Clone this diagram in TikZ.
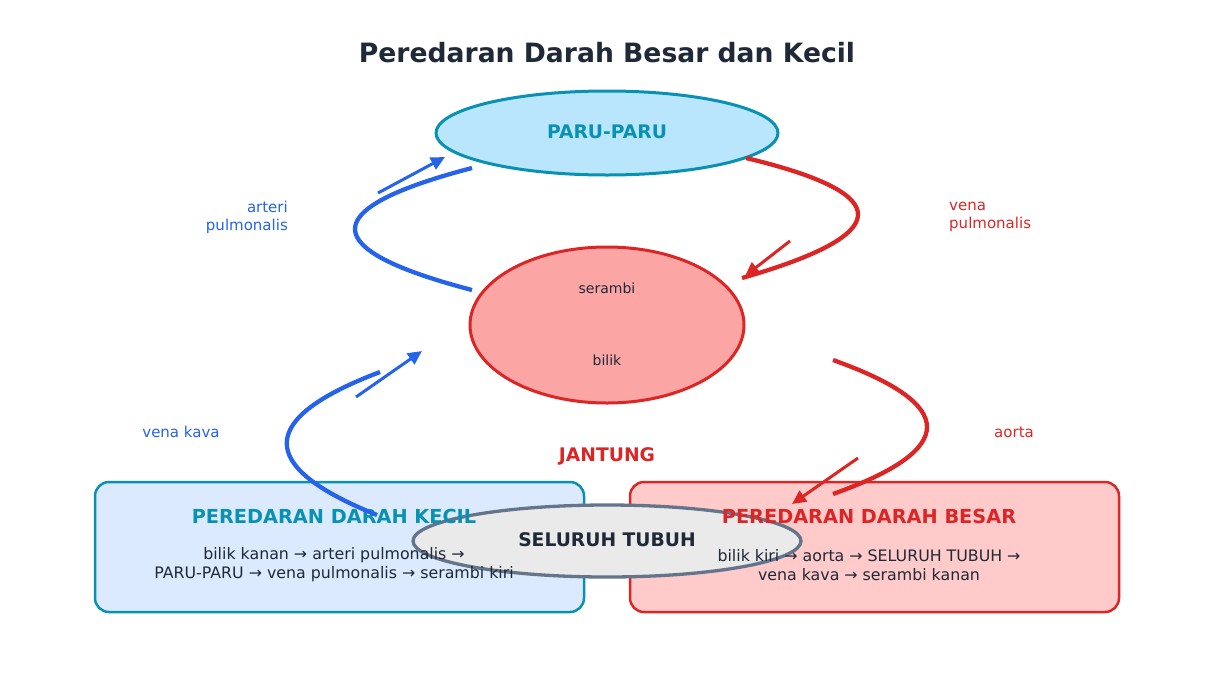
\documentclass[tikz,border=0pt]{standalone}
\usepackage{fontspec}
\setmainfont{DejaVu Sans}
\usetikzlibrary{shapes.geometric,arrows.meta}
\definecolor{cblue}{HTML}{2563EB}
\definecolor{cred}{HTML}{DC2626}
\definecolor{cteal}{HTML}{0891B2}
\definecolor{ctext}{HTML}{1F2937}
\definecolor{lungfill}{HTML}{BAE6FD}
\definecolor{heartfill}{HTML}{FCA5A5}
\definecolor{leftfill}{HTML}{DBEAFE}
\definecolor{rightfill}{HTML}{FECACA}
\definecolor{bodyfill}{HTML}{EAEAEA}
\definecolor{bodyline}{HTML}{64748B}
\tikzset{
  oval/.style={ellipse, inner sep=0pt, line width=3pt},
  panel/.style={rounded corners=14pt, line width=2.5pt},
  boldlab/.style={font=\bfseries\fontsize{18.7}{22}\selectfont},
  boxtitle/.style={font=\bfseries\fontsize{19.3}{22}\selectfont},
  bodytxt/.style={font=\fontsize{15.8}{19}\selectfont, text=ctext, align=center},
  sidelab/.style={font=\fontsize{15}{18}\selectfont, inner sep=0pt},
  flow/.style={line width=4.3pt},
  dir/.style={line width=3pt, -{Triangle[length=14pt,width=13pt]}},
}
\begin{document}
\begin{tikzpicture}[x=1pt,y=-1pt]
\useasboundingbox (0,0) rectangle (1214,675);
% title
\node[font=\bfseries\fontsize{26.6}{30}\selectfont, text=ctext] (title) at (607,53) {Peredaran Darah Besar dan Kecil};
% panels
\node[panel, draw=cteal, fill=leftfill, minimum width=489pt, minimum height=130pt, inner sep=0pt] (kecil) at (339.5,547) {};
\node[panel, draw=cred, fill=rightfill, minimum width=489pt, minimum height=130pt, inner sep=0pt] (besar) at (874.5,547) {};
% body ellipse (under the panel texts)
\node[oval, draw=bodyline, line width=3.3pt, fill=bodyfill, minimum width=388pt, minimum height=72pt] (tubuh) at (607,541) {};
\node[boxtitle, text=cteal] (kecilT) at (334,516) {PEREDARAN DARAH KECIL};
\node[bodytxt] (kecilB) at (334,565) {bilik kanan → arteri pulmonalis →\\PARU-PARU → vena pulmonalis → serambi kiri};
\node[boxtitle, text=cred] (besarT) at (869,516) {PEREDARAN DARAH BESAR};
\node[bodytxt] (besarB) at (869,565) {bilik kiri → aorta → SELURUH TUBUH →\\vena kava → serambi kanan};
\node[boldlab, text=ctext] (tubuhT) at (607,540) {SELURUH TUBUH};
% main organs
\node[oval, draw=cteal, fill=lungfill, minimum width=342pt, minimum height=84pt] (paru) at (607,133) {};
\node[boldlab, text=cteal] (paruT) at (607,132) {PARU-PARU};
\node[oval, draw=cred, fill=heartfill, minimum width=274pt, minimum height=156pt] (heart) at (607,325) {};
\node[font=\fontsize{14}{17}\selectfont, text=ctext] (serambi) at (607,288) {serambi};
\node[font=\fontsize{14}{17}\selectfont, text=ctext] (bilik) at (607,360) {bilik};
\node[boldlab, text=cred] (jantung) at (607,456) {JANTUNG};
% side labels
\node[sidelab, text=cblue, align=right, anchor=east] (lblAP) at (288,217) {arteri\\pulmonalis};
\node[sidelab, text=cred, align=left, anchor=west] (lblVP) at (949,217) {vena\\pulmonalis};
\node[sidelab, text=cblue] (lblVK) at (181,432) {vena kava};
\node[sidelab, text=cred] (lblAo) at (1014,432) {aorta};
% endpoints
\coordinate (a1) at (472,290); \coordinate (a2) at (472,168);
\coordinate (b1) at (746,158); \coordinate (b2) at (742,278);
\coordinate (c1) at (380,372); \coordinate (c2) at (377,515);
\coordinate (d1) at (833,360); \coordinate (d2) at (833,494);
\coordinate (ta1) at (378,193); \coordinate (ta2) at (445,157);
\coordinate (tb1) at (790,241); \coordinate (tb2) at (745,276);
\coordinate (tc1) at (356,397); \coordinate (tc2) at (422,351);
\coordinate (td1) at (858,458); \coordinate (td2) at (792,504);
% flows
\draw[flow, cblue] (a1) .. controls (316,249.3) and (316,208.7) .. (a2);
\draw[dir, cblue] (ta1) -- (ta2);
\draw[flow, cred] (b1) .. controls (896.7,194) and (895.3,234) .. (b2);
\draw[dir, cred] (tb1) -- (tb2);
\draw[flow, cblue] (c1) .. controls (256.7,418.7) and (255.7,466.3) .. (c2);
\draw[dir, cblue] (tc1) -- (tc2);
\draw[flow, cred] (d1) .. controls (958.3,404.7) and (958.3,449.3) .. (d2);
\draw[dir, cred] (td1) -- (td2);
\end{tikzpicture}
\end{document}
